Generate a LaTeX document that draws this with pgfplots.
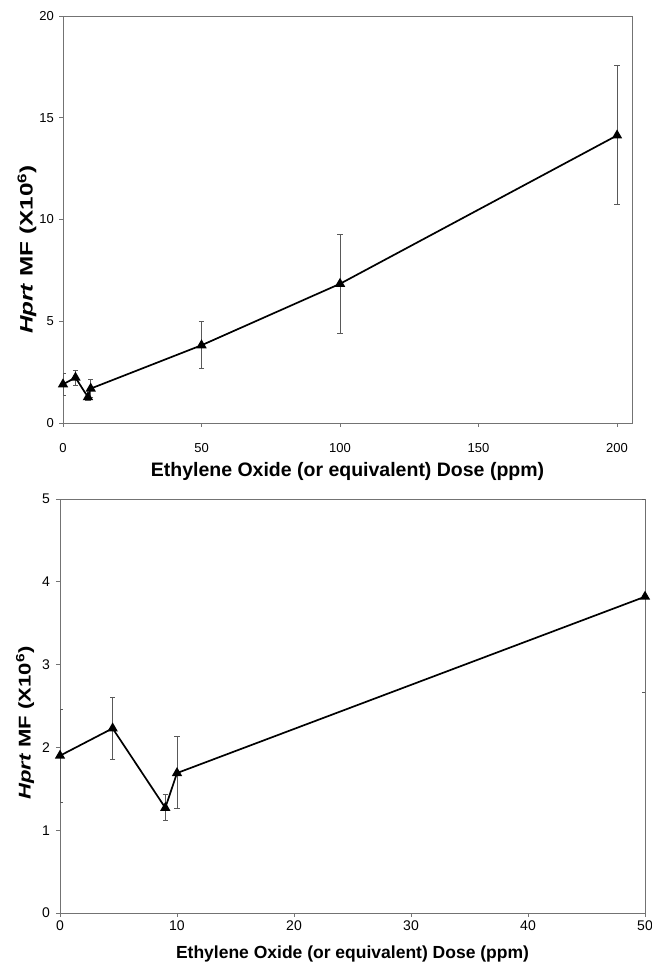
\documentclass[border=0pt]{standalone}
\usepackage{fontspec}
\setmainfont{Liberation Sans}
\usepackage{graphicx}
\usepackage{pgfplots}
\pgfplotsset{compat=1.18}
\pgfplotsset{
  mystyle/.style={
    scale only axis,
    axis line style={draw=black!55, line width=0.8pt},
    tick style={draw=black!55, line width=0.8pt},
    tick align=outside,
    tick pos=left,
    major tick length=4pt,
    /pgf/number format/assume math mode=true,
    ticklabel style={font=\fontsize{13}{15}\selectfont},
    xticklabel style={anchor=center, inner sep=0pt},
    yticklabel style={anchor=east, inner sep=0pt},
    xlabel style={at={(axis description cs:0.5,0)}, anchor=center, inner sep=0pt},
    ylabel style={at={(axis description cs:0,0.5)}, anchor=center, inner sep=0pt},
    clip=true,
  },
  dataline/.style={
    black, line width=1.7pt,
    mark=triangle*, mark size=4.3pt, mark options={solid, fill=black},
    error bars/.cd, y dir=both, y explicit,
    error bar style={black!65, line width=0.7pt},
    error mark options={rotate=90, mark size=2.6pt, black!65, line width=0.7pt},
  },
}
\newcommand{\ylab}[1]{\scalebox{#1}[1]{\textbf{\textit{Hprt} MF (X10\textsuperscript{6})}}}
\begin{document}
\begin{tikzpicture}
\useasboundingbox (0pt,0pt) rectangle (651pt,969pt);
% top panel
\begin{axis}[mystyle,
  at={(63pt,546pt)}, anchor=south west,
  width=569pt, height=407pt,
  xmin=0, xmax=205.4, ymin=0, ymax=20,
  xtick={0,50,100,150,200}, ytick={0,5,10,15,20},
  xticklabel style={yshift=-21pt},
  yticklabel style={xshift=-5pt},
  xlabel={Ethylene Oxide (or equivalent) Dose (ppm)},
  ylabel={\ylab{1.35}},
  xlabel style={yshift=-48pt, font=\bfseries\fontsize{19.5}{22}\selectfont},
  ylabel style={yshift=36pt, xshift=-30pt, font=\fontsize{18}{20}\selectfont},
]
\addplot+[dataline] coordinates {
  (0,1.90)    += (0,0.56) -= (0,0.56)
  (4.5,2.23)  += (0,0.37) -= (0,0.375)
  (9,1.27)    += (0,0.16) -= (0,0.15)
  (10,1.69)   += (0,0.44) -= (0,0.43)
  (50,3.82)   += (0,1.17) -= (0,1.15)
  (100,6.84)  += (0,2.43) -= (0,2.42)
  (200,14.13) += (0,3.43) -= (0,3.37)
};
\end{axis}
% bottom panel
\begin{axis}[mystyle,
  at={(60pt,56pt)}, anchor=south west,
  width=585pt, height=414pt,
  xmin=0, xmax=50, ymin=0, ymax=5,
  xtick={0,10,20,30,40,50}, ytick={0,1,2,3,4,5},
  xticklabel style={yshift=-9pt, font=\fontsize{14}{16}\selectfont},
  yticklabel style={xshift=-6pt, font=\fontsize{14}{16}\selectfont},
  xlabel={Ethylene Oxide (or equivalent) Dose (ppm)},
  ylabel={\ylab{1.3}},
  xlabel style={yshift=-41pt, font=\bfseries\fontsize{17.5}{20}\selectfont},
  ylabel style={yshift=35pt, xshift=-17pt, font=\fontsize{17}{19}\selectfont},
]
\addplot+[dataline] coordinates {
  (0,1.90)    += (0,0.56) -= (0,0.56)
  (4.5,2.23)  += (0,0.37) -= (0,0.375)
  (9,1.27)    += (0,0.16) -= (0,0.15)
  (10,1.69)   += (0,0.44) -= (0,0.43)
  (50,3.82)   += (0,1.17) -= (0,1.15)
};
\end{axis}
\end{tikzpicture}
\end{document}
